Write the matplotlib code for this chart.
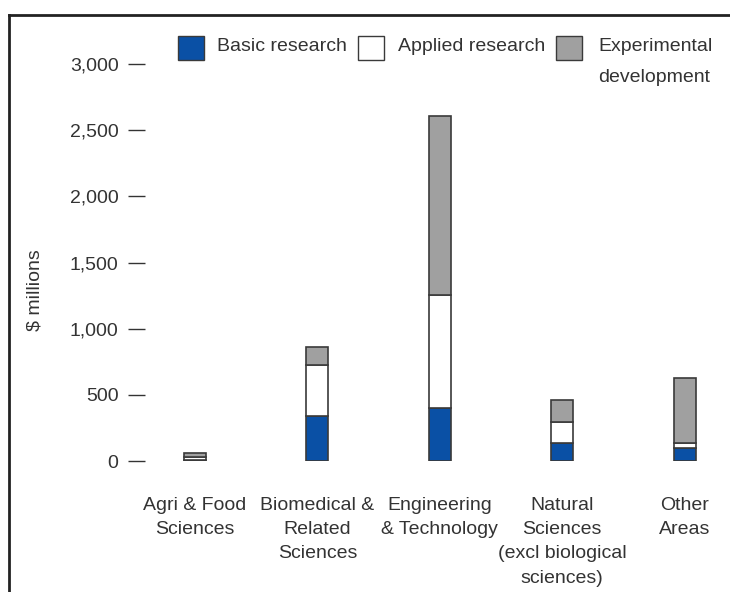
import numpy as np
import matplotlib
matplotlib.use('Agg')
import matplotlib.pyplot as plt
from matplotlib.patches import Rectangle
from matplotlib.lines import Line2D

plt.rcParams['font.family'] = ['Liberation Sans Narrow', 'Liberation Sans', 'DejaVu Sans']

# data ($ millions)
categories = ['Agri & Food\nSciences', 'Biomedical &\nRelated\nSciences',
              'Engineering\n& Technology', 'Natural\nSciences\n(excl biological\nsciences)',
              'Other\nAreas']
basic = [10, 340, 400, 135, 95]
applied = [20, 385, 855, 160, 40]
experimental = [30, 137, 1350, 165, 490]
series_names = ['Basic research', 'Applied research', 'Experimental\ndevelopment']
colors = ['#0a50a5', '#ffffff', '#a0a0a0']

W, H = 730, 592
fig = plt.figure(figsize=(W / 100, H / 100), dpi=100)
ax = fig.add_axes([145 / W, (H - 461) / H, (W - 145) / W, 397 / H])

x = np.arange(len(categories))
edge = '#3a3a3a'
bw = 0.18
b1 = np.array(basic)
b2 = b1 + np.array(applied)
ax.bar(x, basic, bw, color=colors[0], edgecolor=edge, linewidth=1.2)
ax.bar(x, applied, bw, bottom=b1, color=colors[1], edgecolor=edge, linewidth=1.2)
ax.bar(x, experimental, bw, bottom=b2, color=colors[2], edgecolor=edge, linewidth=1.2)

fs = 14
ax.set_xlim(-0.408, 4.37)
ax.set_ylim(0, 3000)
for s in ax.spines.values():
    s.set_visible(False)
ax.set_yticks(np.arange(0, 3001, 500))
ax.set_yticklabels([f'{v:,}' for v in range(0, 3001, 500)])
ax.tick_params(axis='y', direction='out', length=12, width=1.0, pad=7,
               colors='#333333', labelsize=fs)
ax.set_xticks(x)
ax.set_xticklabels(categories, linespacing=1.55)
ax.tick_params(axis='x', length=0, pad=26, colors='#333333', labelsize=fs)

fig.text(35 / W, 1 - 290 / H, '$ millions', rotation=90, ha='center', va='center',
         fontsize=fs, color='#333333')

# legend drawn manually above the plot
legend_x = [178, 358, 556]
text_x = [217, 398, 598]
for lx, tx, name, c in zip(legend_x, text_x, series_names, colors):
    fig.patches.append(Rectangle((lx / W, 1 - 60 / H), 26 / W, 24 / H, transform=fig.transFigure,
                                 facecolor=c, edgecolor=edge, linewidth=1.0))
    fig.text(tx / W, 1 - 38 / H, name, ha='left', va='top', fontsize=fs,
             color='#333333', linespacing=2.1)

# frame lines (top and left)
fig.add_artist(Line2D([9 / W, 1], [1 - 15 / H, 1 - 15 / H], transform=fig.transFigure,
                      color='#222222', linewidth=2))
fig.add_artist(Line2D([9 / W, 9 / W], [0, 1 - 15 / H], transform=fig.transFigure,
                      color='#222222', linewidth=2))

fig.savefig('out.png', dpi=100)
